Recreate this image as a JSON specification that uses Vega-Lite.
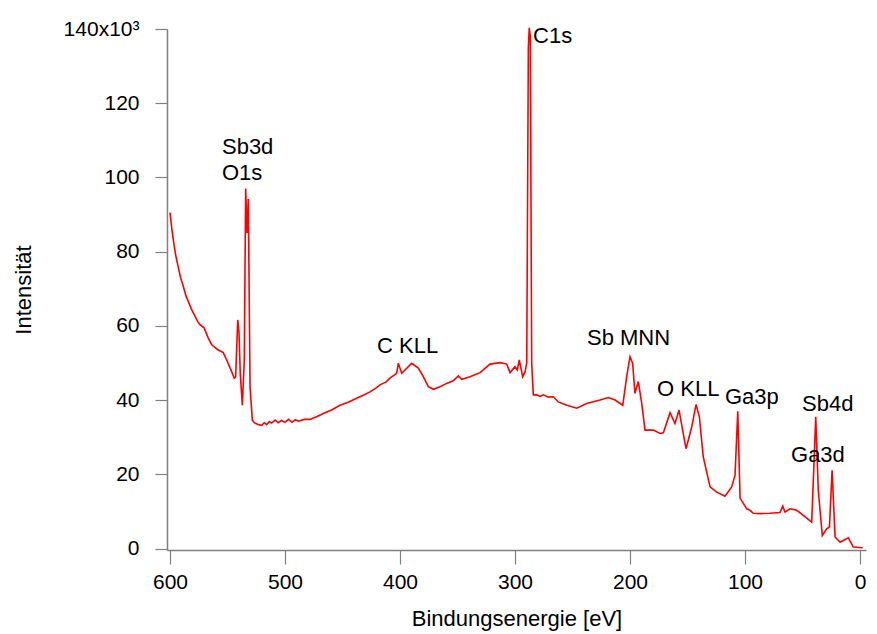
{
  "$schema": "https://vega.github.io/schema/vega-lite/v6.json",
  "width": 699,
  "height": 521,
  "autosize": {"type": "none"},
  "padding": {"left": 167, "top": 29, "right": 11, "bottom": 84},
  "background": "white",
  "config": {"view": {"stroke": null}, "font": "Liberation Sans"},
  "layer": [
    {
      "data": {"values": [
        {"eV": 600.0, "I": 90.5}, {"eV": 598.5, "I": 86.4}, {"eV": 597.1, "I": 83.2}, {"eV": 595.2, "I": 79.3}, {"eV": 593.3, "I": 76.5},
        {"eV": 590.8, "I": 73.0}, {"eV": 588.4, "I": 70.6}, {"eV": 586.0, "I": 68.0},
        {"eV": 584.1, "I": 66.6}, {"eV": 581.5, "I": 64.6}, {"eV": 578.9, "I": 63.0}, {"eV": 576.0, "I": 61.2}, {"eV": 573.9, "I": 60.3}, {"eV": 570.2, "I": 59.4},
        {"eV": 566.7, "I": 56.7}, {"eV": 563.7, "I": 54.9}, {"eV": 561.0, "I": 54.2}, {"eV": 558.0, "I": 53.5}, {"eV": 553.7, "I": 52.8},
        {"eV": 550.7, "I": 50.8}, {"eV": 546.3, "I": 47.6}, {"eV": 544.1, "I": 45.9}, {"eV": 542.9, "I": 46.3},
        {"eV": 541.1, "I": 61.6}, {"eV": 540.0, "I": 58.1}, {"eV": 538.9, "I": 47.2}, {"eV": 537.1, "I": 38.6},
        {"eV": 535.4, "I": 50.8}, {"eV": 534.2, "I": 97.0}, {"eV": 533.0, "I": 85.0}, {"eV": 531.9, "I": 94.2},
        {"eV": 530.4, "I": 43.6}, {"eV": 528.4, "I": 34.6}, {"eV": 526.7, "I": 33.9}, {"eV": 523.5, "I": 33.4},
        {"eV": 520.3, "I": 33.2}, {"eV": 518.0, "I": 33.9}, {"eV": 516.0, "I": 33.4}, {"eV": 513.5, "I": 34.2}, {"eV": 511.6, "I": 33.8}, {"eV": 508.5, "I": 34.6}, {"eV": 506.0, "I": 33.9},
        {"eV": 503.0, "I": 34.5}, {"eV": 500.0, "I": 34.0}, {"eV": 497.0, "I": 34.8}, {"eV": 494.0, "I": 34.0}, {"eV": 491.0, "I": 34.7}, {"eV": 488.4, "I": 34.3}, {"eV": 483.0, "I": 34.8},
        {"eV": 478.3, "I": 34.8}, {"eV": 472.0, "I": 35.6}, {"eV": 466.7, "I": 36.4}, {"eV": 459.0, "I": 37.4},
        {"eV": 452.2, "I": 38.6}, {"eV": 445.0, "I": 39.4}, {"eV": 437.7, "I": 40.5}, {"eV": 432.0, "I": 41.3},
        {"eV": 426.1, "I": 42.2}, {"eV": 421.0, "I": 43.2}, {"eV": 417.4, "I": 44.1}, {"eV": 412.0, "I": 44.9},
        {"eV": 408.7, "I": 45.9}, {"eV": 402.9, "I": 47.2}, {"eV": 401.5, "I": 49.9}, {"eV": 398.5, "I": 47.2},
        {"eV": 395.7, "I": 48.1}, {"eV": 389.8, "I": 49.9}, {"eV": 384.1, "I": 48.6}, {"eV": 379.7, "I": 46.3},
        {"eV": 375.4, "I": 43.6}, {"eV": 371.0, "I": 42.9}, {"eV": 365.2, "I": 43.6}, {"eV": 359.4, "I": 44.5},
        {"eV": 353.7, "I": 45.2}, {"eV": 349.3, "I": 46.5}, {"eV": 346.3, "I": 45.6}, {"eV": 339.1, "I": 46.3},
        {"eV": 330.4, "I": 47.4}, {"eV": 321.7, "I": 49.7}, {"eV": 313.0, "I": 50.1}, {"eV": 307.2, "I": 49.7},
        {"eV": 304.3, "I": 47.4}, {"eV": 300.0, "I": 49.0}, {"eV": 298.0, "I": 48.1}, {"eV": 296.3, "I": 50.8},
        {"eV": 293.3, "I": 46.3}, {"eV": 291.3, "I": 47.6}, {"eV": 289.8, "I": 50.0}, {"eV": 288.4, "I": 135.0},
        {"eV": 287.6, "I": 140.3}, {"eV": 286.7, "I": 138.0}, {"eV": 285.5, "I": 50.0}, {"eV": 284.1, "I": 41.4},
        {"eV": 281.1, "I": 41.4}, {"eV": 278.0, "I": 41.0}, {"eV": 275.4, "I": 41.4}, {"eV": 271.0, "I": 40.8},
        {"eV": 266.7, "I": 40.9}, {"eV": 262.3, "I": 39.5}, {"eV": 255.0, "I": 38.6}, {"eV": 246.3, "I": 37.8},
        {"eV": 237.7, "I": 39.1}, {"eV": 226.1, "I": 40.0}, {"eV": 218.9, "I": 40.7}, {"eV": 213.0, "I": 40.0},
        {"eV": 206.3, "I": 38.6}, {"eV": 202.9, "I": 46.3}, {"eV": 200.0, "I": 51.7}, {"eV": 197.7, "I": 49.9},
        {"eV": 195.7, "I": 41.8}, {"eV": 192.8, "I": 45.0}, {"eV": 189.8, "I": 39.1}, {"eV": 187.0, "I": 31.9},
        {"eV": 179.7, "I": 31.9}, {"eV": 173.9, "I": 31.0}, {"eV": 171.0, "I": 31.2}, {"eV": 165.2, "I": 36.6},
        {"eV": 160.9, "I": 33.7}, {"eV": 157.4, "I": 37.3}, {"eV": 151.3, "I": 26.9}, {"eV": 146.3, "I": 32.8},
        {"eV": 142.6, "I": 38.8}, {"eV": 139.7, "I": 35.5}, {"eV": 136.3, "I": 24.7}, {"eV": 130.4, "I": 16.6},
        {"eV": 124.6, "I": 15.2}, {"eV": 117.4, "I": 14.1}, {"eV": 111.6, "I": 16.6}, {"eV": 108.7, "I": 19.7},
        {"eV": 106.3, "I": 37.0}, {"eV": 104.3, "I": 13.6}, {"eV": 98.5, "I": 10.7}, {"eV": 95.7, "I": 10.3},
        {"eV": 92.8, "I": 9.5}, {"eV": 87.0, "I": 9.4}, {"eV": 78.3, "I": 9.5}, {"eV": 69.6, "I": 9.7},
        {"eV": 67.2, "I": 11.4}, {"eV": 65.2, "I": 9.8}, {"eV": 60.9, "I": 10.7}, {"eV": 55.0, "I": 10.3},
        {"eV": 49.3, "I": 8.9}, {"eV": 42.0, "I": 7.1}, {"eV": 38.5, "I": 35.5}, {"eV": 36.3, "I": 15.7},
        {"eV": 32.8, "I": 3.5}, {"eV": 29.0, "I": 5.3}, {"eV": 26.6, "I": 5.8}, {"eV": 24.3, "I": 21.1},
        {"eV": 21.7, "I": 3.1}, {"eV": 17.4, "I": 1.7}, {"eV": 10.2, "I": 2.9}, {"eV": 5.8, "I": 0.4},
        {"eV": -2.3, "I": 0.2}
      ]},
      "transform": [{"calculate": "datum.I * 1000", "as": "Intensity"}],
      "mark": {"type": "line", "color": "#ff0000", "strokeWidth": 1.6},
      "encoding": {
        "x": {"field": "eV", "type": "quantitative",
          "scale": {"domain": [-5.2, 602.6], "reverse": true, "nice": false, "zero": false},
          "axis": {"values": [0, 100, 200, 300, 400, 500, 600], "grid": false, "tickSize": 14,
            "labelFontSize": 21, "labelPadding": 7, "labelColor": "black", "labelFlush": false,
            "title": "Bindungsenergie [eV]", "titleFontSize": 22, "titleFontWeight": "normal",
            "titlePadding": 16, "titleColor": "black",
            "domainColor": "#808080", "tickColor": "#808080", "domainWidth": 1.5, "tickWidth": 1.2}},
        "y": {"field": "Intensity", "type": "quantitative",
          "scale": {"domain": [-400, 140000], "nice": false, "zero": false},
          "axis": {"values": [0, 20000, 40000, 60000, 80000, 100000, 120000, 140000], "grid": false,
            "labelExpr": "datum.value == 140000 ? '140x10³' : format(datum.value / 1000, 'd')",
            "tickSize": 12, "labelFontSize": 21, "labelPadding": 16, "labelColor": "black", "labelFlush": false,
            "title": "Intensität", "titleFontSize": 22, "titleFontWeight": "normal", "titlePadding": 28,
            "titleColor": "black",
            "domainColor": "#808080", "tickColor": "#808080", "domainWidth": 1.5, "tickWidth": 1.2}}
      }
    },
    {
      "data": {"values": [
        {"label": "C1s", "eV": 284.3, "I": 138.0},
        {"label": "Sb3d", "eV": 554.8, "I": 108.3},
        {"label": "O1s", "eV": 554.8, "I": 101.3},
        {"label": "C KLL", "eV": 420.0, "I": 54.5},
        {"label": "Sb MNN", "eV": 237.4, "I": 56.7},
        {"label": "O KLL", "eV": 176.5, "I": 42.9},
        {"label": "Ga3p", "eV": 117.4, "I": 40.8},
        {"label": "Sb4d", "eV": 50.4, "I": 38.9},
        {"label": "Ga3d", "eV": 60.0, "I": 25.2}
      ]},
      "transform": [{"calculate": "datum.I * 1000", "as": "Intensity"}],
      "mark": {"type": "text", "align": "left", "baseline": "middle", "fontSize": 22, "color": "black"},
      "encoding": {
        "x": {"field": "eV", "type": "quantitative"},
        "y": {"field": "Intensity", "type": "quantitative"},
        "text": {"field": "label"}
      }
    }
  ]
}
